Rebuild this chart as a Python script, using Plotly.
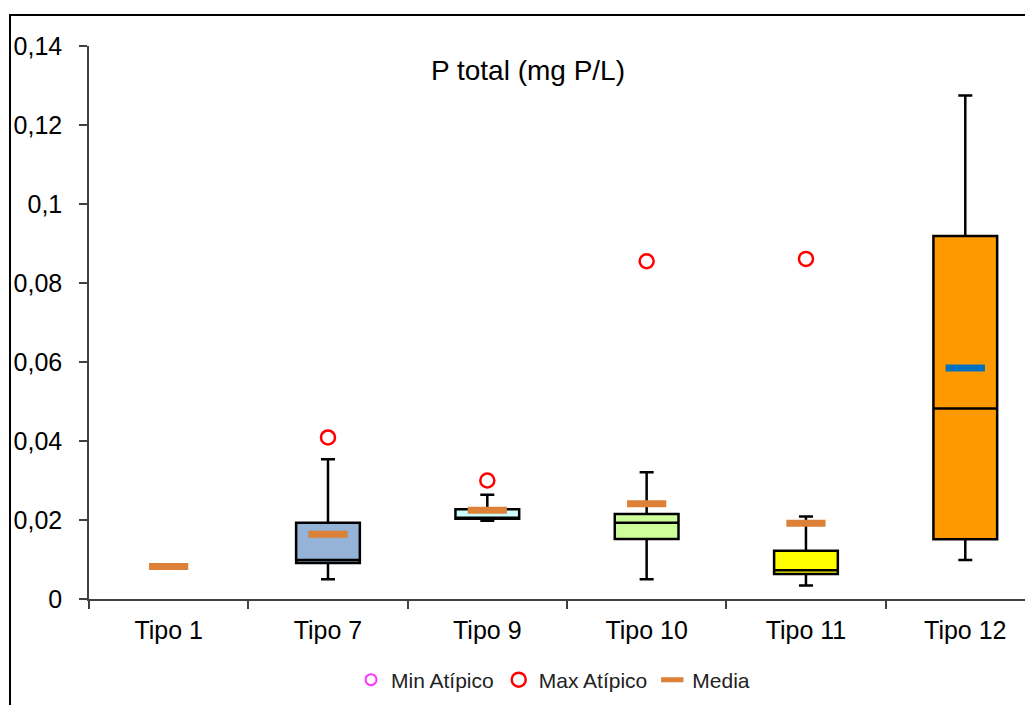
import plotly.graph_objects as go

# Data
tipos = ["Tipo 1", "Tipo 7", "Tipo 9", "Tipo 10", "Tipo 11", "Tipo 12"]
box_tipos = ["Tipo 7", "Tipo 9", "Tipo 10", "Tipo 11", "Tipo 12"]
q1 = [0.0091, 0.0203, 0.0152, 0.0063, 0.0151]
mediana = [0.0099, 0.0204, 0.0193, 0.0073, 0.0482]
q3 = [0.0193, 0.0227, 0.0215, 0.0122, 0.0919]
bigote_inf = [0.0050, 0.0198, 0.0050, 0.0034, 0.0099]
bigote_sup = [0.0354, 0.0264, 0.0321, 0.0209, 0.1275]
colores_caja = ["#95B3D7", "#CCFFFF", "#CCFF99", "#FFFF00", "#FF9900"]

media = [0.0082, 0.0164, 0.0225, 0.0241, 0.0192, 0.0585]
color_media = ["#DD8038", "#DD8038", "#DD8038", "#DD8038", "#DD8038", "#0070C0"]

max_tipos = ["Tipo 7", "Tipo 9", "Tipo 10", "Tipo 11"]
max_atipico = [0.0409, 0.0300, 0.0855, 0.0861]

# the page body adds an 8px margin, so the figure is a bit smaller than the window
W, H = 1025, 697
L, R, T, B = 81, 0, 38, 106
pw, ph = W - L - R, H - T - B

def px(x):
    return (x - L) / pw

def py(y):
    return (H - B - y) / ph

fig = go.Figure()

for t, a, m, b, lo, hi, c in zip(box_tipos, q1, mediana, q3, bigote_inf, bigote_sup, colores_caja):
    fig.add_trace(go.Box(
        x=[t], q1=[a], median=[m], q3=[b], lowerfence=[lo], upperfence=[hi],
        fillcolor=c, line=dict(color="black", width=2.5),
        width=0.4, whiskerwidth=0.22, boxpoints=False, showlegend=False,
    ))

fig.add_trace(go.Scatter(
    x=[None], y=[None], mode="markers", name="Min Atípico",
    marker=dict(symbol="circle-open", size=11, color="#FF33FF", line=dict(width=2)),
))
fig.add_trace(go.Scatter(
    x=max_tipos, y=max_atipico, mode="markers", name="Max Atípico",
    marker=dict(symbol="circle-open", size=14, color="#FF0000", line=dict(width=2.5)),
))
fig.add_trace(go.Scatter(
    x=tipos, y=media, mode="markers", name="Media",
    marker=dict(symbol="line-ew", size=28, color=color_media,
                line=dict(width=7, color=color_media)),
))

fig.update_layout(
    width=W, height=H,
    margin=dict(l=L, r=R, t=T, b=B),
    paper_bgcolor="white", plot_bgcolor="white",
    separators=",.",
    font=dict(family="Liberation Sans, Arial, sans-serif", color="black"),
    showlegend=True,
    legend=dict(orientation="h", x=px(545), xanchor="center", y=py(672), yanchor="middle",
                font=dict(size=21, color="#222222"), itemwidth=30, tracegroupgap=0),
    annotations=[dict(text="P total (mg P/L)", x=px(520), y=py(45), xref="paper", yref="paper",
                      showarrow=False, font=dict(size=28, color="black"))],
    shapes=[dict(type="rect", xref="paper", yref="paper",
                 x0=px(2), x1=px(1100), y0=py(800), y1=py(7),
                 line=dict(color="black", width=2))],
)

fig.update_xaxes(
    type="category", categoryorder="array", categoryarray=tipos,
    range=[-0.5, 5.425], tickson="boundaries",
    showline=True, linecolor="#404040", linewidth=1.5,
    ticks="outside", ticklen=8, tickcolor="#404040", tickwidth=1.5,
    tickfont=dict(size=25), ticklabelstandoff=8,
    showgrid=False, zeroline=False,
)
fig.update_yaxes(
    range=[0, 0.14], dtick=0.02, tick0=0,
    showline=True, linecolor="#404040", linewidth=1.5,
    ticks="outside", ticklen=8, tickcolor="#404040", tickwidth=1.5,
    tickfont=dict(size=25), ticklabelstandoff=12,
    showgrid=False, zeroline=False,
)

fig.write_html("out.html")
